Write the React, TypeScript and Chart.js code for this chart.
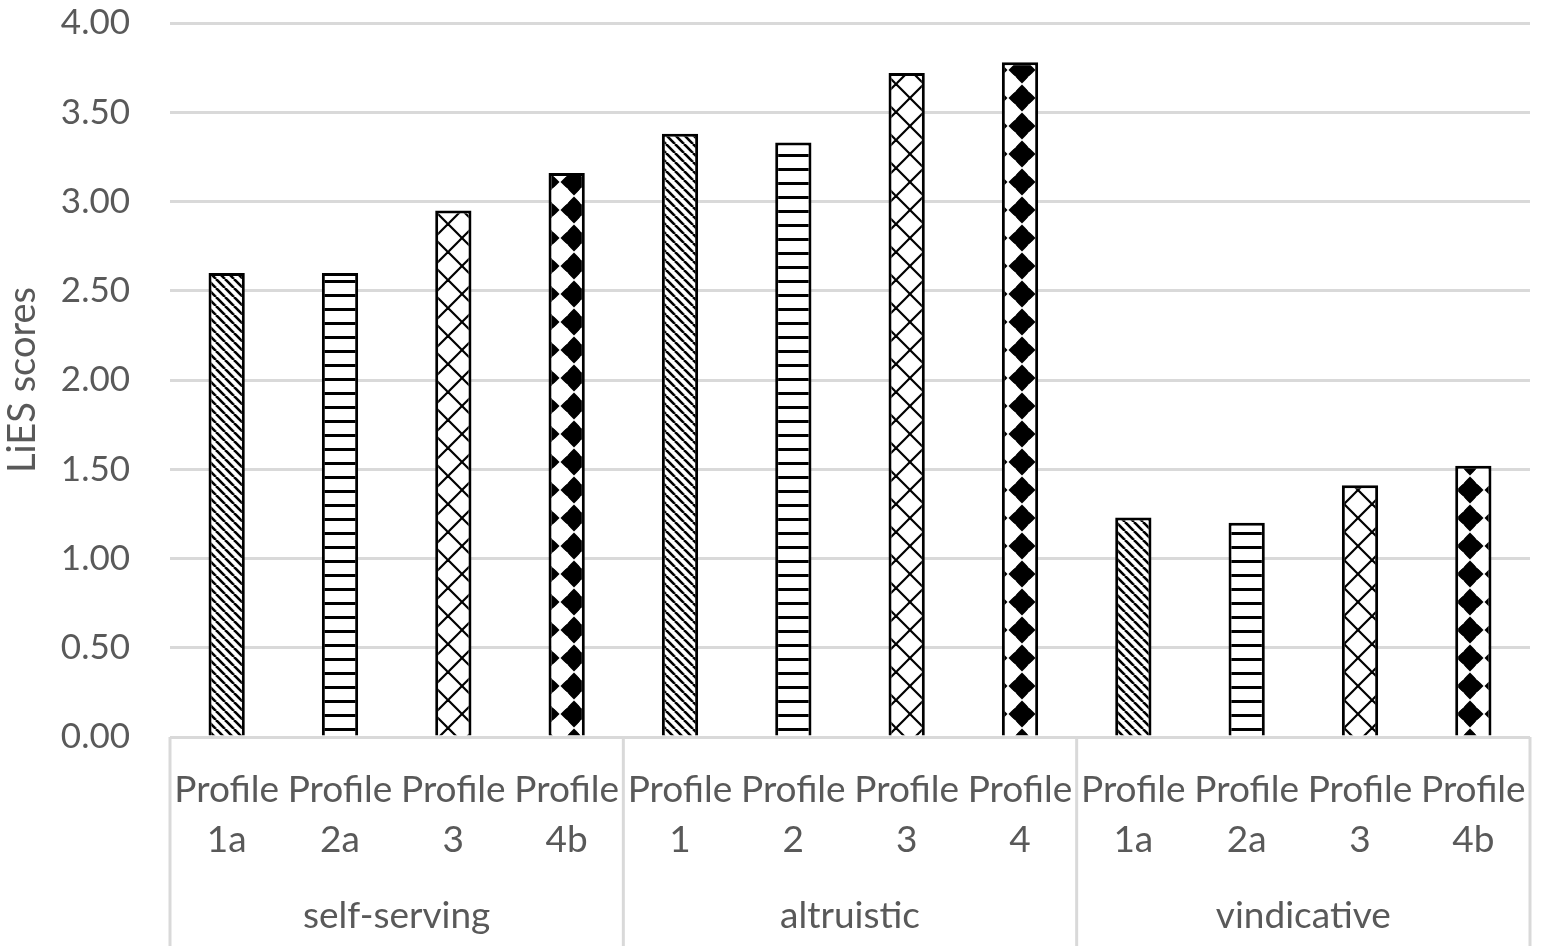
import { useEffect, useRef } from "react";
import { Chart, registerables } from "chart.js";

Chart.register(...registerables);

// Data
const groups = ["self-serving", "altruistic", "vindicative"];
const profiles = [
  ["Profile", "1a"], ["Profile", "2a"], ["Profile", "3"], ["Profile", "4b"],
  ["Profile", "1"], ["Profile", "2"], ["Profile", "3"], ["Profile", "4"],
  ["Profile", "1a"], ["Profile", "2a"], ["Profile", "3"], ["Profile", "4b"],
];
const scores = [2.6, 2.6, 2.95, 3.16, 3.38, 3.33, 3.72, 3.78, 1.23, 1.2, 1.41, 1.52];
const patternOrder = ["diag", "hlines", "lattice", "diamonds"];

const FONT = "Lato, 'Noto Sans', sans-serif";
const TEXT = "#595959";
const GRID = "#d9d9d9";

function makePattern(kind: string): CanvasPattern | string {
  const c = document.createElement("canvas");
  const g = c.getContext("2d");
  if (!g) return "#fff";
  if (kind === "diag") {
    const s = 9;
    c.width = s; c.height = s;
    g.fillStyle = "#fff"; g.fillRect(0, 0, s, s);
    g.strokeStyle = "#000"; g.lineWidth = 2.6;
    for (const o of [-s, 0, s]) {
      g.beginPath(); g.moveTo(o, 0); g.lineTo(o + s, s); g.stroke();
    }
  } else if (kind === "hlines") {
    const s = 14;
    c.width = s; c.height = s;
    g.fillStyle = "#fff"; g.fillRect(0, 0, s, s);
    g.fillStyle = "#000"; g.fillRect(0, 0, s, 3);
  } else if (kind === "lattice") {
    const s = 28;
    c.width = s; c.height = s;
    g.fillStyle = "#fff"; g.fillRect(0, 0, s, s);
    g.strokeStyle = "#000"; g.lineWidth = 2.2;
    for (const o of [-s, 0, s]) {
      g.beginPath(); g.moveTo(o, 0); g.lineTo(o + s, s); g.stroke();
      g.beginPath(); g.moveTo(o + s, 0); g.lineTo(o, s); g.stroke();
    }
  } else {
    // large black diamonds with rounded white gaps between them
    const w = 28, h = 28;
    c.width = w; c.height = h;
    g.fillStyle = "#fff"; g.fillRect(0, 0, w, h);
    g.fillStyle = "#000";
    const rx = 13.5, ry = 13.5;
    const cx = w / 2, cy = h / 2;
    g.beginPath();
    g.moveTo(cx, cy - ry); g.lineTo(cx + rx, cy); g.lineTo(cx, cy + ry); g.lineTo(cx - rx, cy);
    g.closePath(); g.fill();
    g.fillStyle = "#fff";
    for (const [px, py] of [[0, 0], [w, 0], [0, h], [w, h]]) {
      g.beginPath(); g.arc(px, py, 10.5, 0, Math.PI * 2); g.fill();
    }
  }
  return g.createPattern(c, "repeat") ?? "#fff";
}

const groupPlugin = {
  id: "groupLabels",
  afterDraw(chart: any) {
    const { ctx, chartArea, scales } = chart;
    const x = scales.x;
    const n = profiles.length;
    const per = n / groups.length;
    const slot = (x.right - x.left) / n;
    const bottom = chart.height - 4;
    ctx.save();
    ctx.strokeStyle = GRID;
    ctx.lineWidth = 3;
    for (let k = 0; k <= groups.length; k++) {
      const px = x.left + k * per * slot;
      ctx.beginPath();
      ctx.moveTo(px, chartArea.bottom);
      ctx.lineTo(px, bottom);
      ctx.stroke();
    }
    ctx.fillStyle = TEXT;
    ctx.font = `37px ${FONT}`;
    ctx.textAlign = "center";
    ctx.textBaseline = "middle";
    groups.forEach((name, k) => {
      const mid = x.left + (k + 0.5) * per * slot;
      ctx.fillText(name, mid, 916);
    });
    ctx.restore();
  },
};

export default function App() {
  const canvasRef = useRef<HTMLCanvasElement>(null);
  const chartRef = useRef<Chart | null>(null);

  useEffect(() => {
    const ctx = canvasRef.current?.getContext("2d");
    if (!ctx) return;
    const fills = scores.map((_, i) => makePattern(patternOrder[i % patternOrder.length]));

    chartRef.current = new Chart(ctx, {
      type: "bar",
      data: {
        labels: profiles,
        datasets: [
          {
            label: "LiES scores",
            data: scores,
            backgroundColor: fills as any,
            borderColor: "#000",
            borderWidth: 3,
            borderSkipped: "bottom",
            categoryPercentage: 1,
            barPercentage: 0.32,
          },
        ],
      },
      options: {
        responsive: true,
        maintainAspectRatio: false,
        animation: false,
        layout: { padding: { top: 23, right: 12, left: 0, bottom: 0 } },
        plugins: {
          legend: { display: false },
          tooltip: { enabled: false },
        },
        scales: {
          x: {
            grid: { display: false },
            border: { display: false },
            ticks: {
              autoSkip: false,
              maxRotation: 0,
              minRotation: 0,
              padding: 20,
              color: TEXT,
              font: { family: FONT, size: 37, lineHeight: 1.35 },
            },
            afterFit(scale: any) {
              scale.height = 213;
              scale.paddingLeft = 0;
              scale.paddingRight = 0;
            },
          },
          y: {
            min: 0,
            max: 4,
            grid: { color: GRID, lineWidth: 3, drawTicks: false },
            border: { display: false },
            ticks: {
              stepSize: 0.5,
              padding: 40,
              color: TEXT,
              font: { family: FONT, size: 35 },
              callback: (v: any) => Number(v).toFixed(2),
            },
            title: {
              display: true,
              text: "LiES scores",
              color: TEXT,
              font: { family: FONT, size: 38 },
              padding: { top: 0, bottom: 0 },
            },
            afterFit(scale: any) {
              scale.width = 170;
              scale.paddingTop = 0;
              scale.paddingBottom = 0;
            },
          },
        },
      },
      plugins: [groupPlugin],
    });

    return () => {
      chartRef.current?.destroy();
    };
  }, []);

  return (
    <div style={{ position: "fixed", left: 0, top: 0, width: 1542, height: 950, background: "#fff" }}>
      <canvas ref={canvasRef} />
    </div>
  );
}
